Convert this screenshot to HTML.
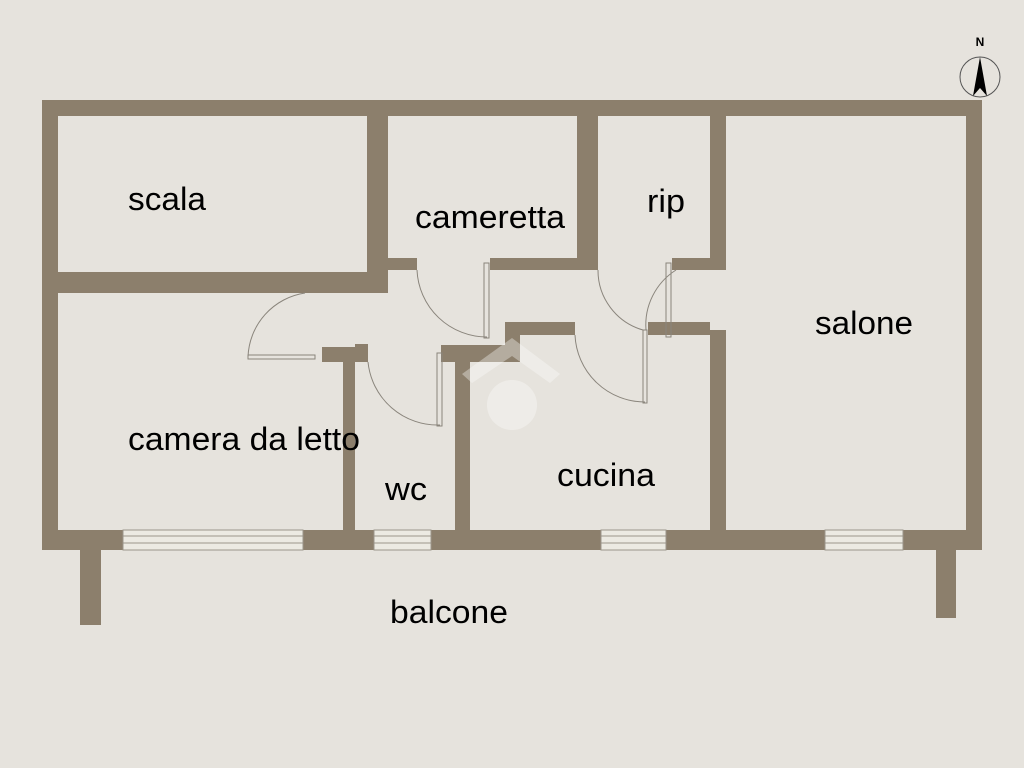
<!DOCTYPE html>
<html><head><meta charset="utf-8"><style>
html,body{margin:0;padding:0;background:#e6e3dd;}
svg{display:block}
text{font-family:"Liberation Sans",sans-serif;font-size:32px;fill:#000}
</style></head><body>
<svg width="1024" height="768" viewBox="0 0 1024 768">
<rect width="1024" height="768" fill="#e6e3dd"/>
<g fill="#8c7f6c">
<rect x="42" y="100" width="940" height="16"/>
<rect x="42" y="100" width="16" height="450"/>
<rect x="966" y="100" width="16" height="450"/>
<rect x="42" y="530" width="81" height="20"/>
<rect x="303" y="530" width="71" height="20"/>
<rect x="431" y="530" width="170" height="20"/>
<rect x="666" y="530" width="159" height="20"/>
<rect x="903" y="530" width="79" height="20"/>
<rect x="80" y="550" width="21" height="75"/>
<rect x="936" y="550" width="20" height="68"/>
<rect x="42" y="272" width="346" height="21"/>
<rect x="367" y="100" width="21" height="193"/>
<rect x="577" y="100" width="21" height="170"/>
<rect x="388" y="258" width="29" height="12"/>
<rect x="490" y="258" width="108" height="12"/>
<rect x="710" y="100" width="16" height="170"/>
<rect x="672" y="258" width="54" height="12"/>
<rect x="710" y="330" width="16" height="200"/>
<rect x="648" y="322" width="62" height="13"/>
<rect x="322" y="347" width="46" height="15"/>
<rect x="355" y="344" width="13" height="18"/>
<rect x="343" y="347" width="12" height="183"/>
<rect x="441" y="345" width="64" height="17"/>
<rect x="455" y="345" width="15" height="185"/>
<rect x="505" y="322" width="70" height="13"/>
<rect x="505" y="322" width="15" height="40"/>
</g>
<g fill="#eceae2" stroke="#9b958a" stroke-width="1">
<rect x="123" y="530" width="180" height="20"/>
<rect x="374" y="530" width="57" height="20"/>
<rect x="601" y="530" width="65" height="20"/>
<rect x="825" y="530" width="78" height="20"/>
</g>
<g stroke="#9b958a" stroke-width="1">
<line x1="123" y1="536" x2="303" y2="536"/><line x1="123" y1="543" x2="303" y2="543"/>
<line x1="374" y1="536" x2="431" y2="536"/><line x1="374" y1="543" x2="431" y2="543"/>
<line x1="601" y1="536" x2="666" y2="536"/><line x1="601" y1="543" x2="666" y2="543"/>
<line x1="825" y1="536" x2="903" y2="536"/><line x1="825" y1="543" x2="903" y2="543"/>
</g>
<g fill="none" stroke="#8a857c" stroke-width="1">
<path d="M248 357 A67 67 0 0 1 305 293"/>
<rect x="248" y="355" width="67" height="4"/>
<path d="M417 270 A70 70 0 0 0 487 337"/>
<rect x="484" y="263" width="5" height="75"/>
<path d="M368 362 A70 70 0 0 0 440 425"/>
<rect x="437" y="353" width="5" height="73"/>
<path d="M575 335 A70 70 0 0 0 645 402"/>
<rect x="643" y="330" width="4" height="73"/>
<path d="M598 270 A62 62 0 0 0 643 330"/>
<path d="M676 270 A65 65 0 0 0 646 330"/>
<rect x="666" y="263" width="5" height="74"/>
</g>
<g opacity="0.35" fill="#fff">
<path d="M462 374 L512 338 L560 374 L550 383 L512 356 L472 383 Z"/>
<circle cx="512" cy="405" r="25"/>
</g>
<text x="128" y="210" textLength="78" lengthAdjust="spacingAndGlyphs">scala</text>
<text x="415" y="228" textLength="150" lengthAdjust="spacingAndGlyphs">cameretta</text>
<text x="647" y="212" textLength="38" lengthAdjust="spacingAndGlyphs">rip</text>
<text x="815" y="334" textLength="98" lengthAdjust="spacingAndGlyphs">salone</text>
<text x="128" y="450" textLength="232" lengthAdjust="spacingAndGlyphs">camera da letto</text>
<text x="385" y="500" textLength="42" lengthAdjust="spacingAndGlyphs">wc</text>
<text x="557" y="486" textLength="98" lengthAdjust="spacingAndGlyphs">cucina</text>
<text x="390" y="623" textLength="118" lengthAdjust="spacingAndGlyphs">balcone</text>
<text x="980" y="46" style="font-size:12px;font-weight:bold" text-anchor="middle">N</text>
<circle cx="980" cy="77" r="20" fill="none" stroke="#555" stroke-width="1"/>
<path d="M980 57 L987 96 L980 88 L973 96 Z" fill="#000"/>
</svg>
</body></html>
